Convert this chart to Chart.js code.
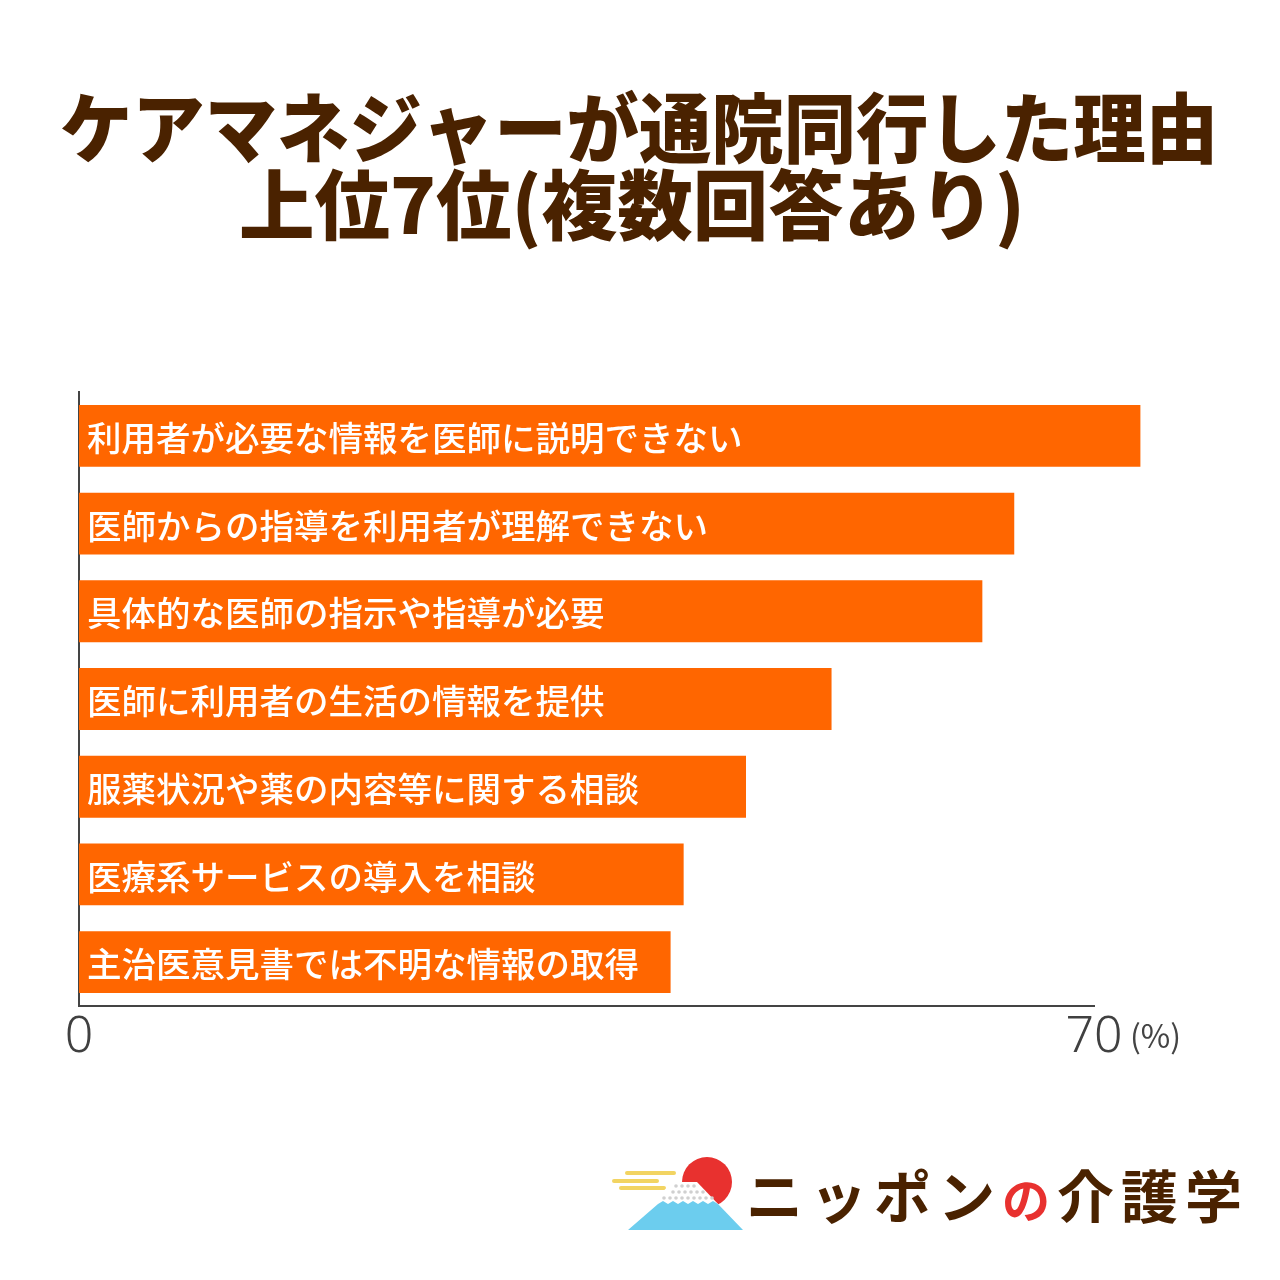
<!DOCTYPE html>
<html>
<head>
<meta charset="utf-8">
<script src="https://cdn.jsdelivr.net/npm/chart.js@4.4.1/dist/chart.umd.min.js"></script>
<style>
html,body{margin:0;padding:0;background:#fff;}
#wrap{position:relative;width:1280px;height:1280px;}
#c{position:absolute;left:0;top:0;}
#logo{position:absolute;left:600px;top:1150px;width:160px;height:90px;}
#logoText{position:absolute;left:746px;top:1158px;font-family:"Noto Sans CJK JP";font-weight:700;font-size:57px;color:#4A2200;letter-spacing:7px;line-height:70px;white-space:nowrap;}
#logoText .no{color:#E8312F;font-size:48px;}
</style>
</head>
<body>
<div id="wrap">
<canvas id="c" width="1280" height="1280"></canvas>
<svg id="logo" width="160" height="90" viewBox="600 1150 160 90">
  <g stroke="#F2D462" stroke-width="4" stroke-linecap="round">
    <line x1="627" y1="1173" x2="674" y2="1173"/>
    <line x1="614" y1="1181" x2="657" y2="1181"/>
    <line x1="621" y1="1188" x2="664" y2="1188"/>
  </g>
  <circle cx="707" cy="1182" r="25" fill="#E8312F"/>
  <polygon points="672,1182 697,1182 743,1230 628,1230" fill="#fff"/>
  <g fill="#D0D0D0">
    <circle cx="676" cy="1186" r="1.8"/><circle cx="682" cy="1186" r="1.8"/><circle cx="688" cy="1186" r="1.8"/><circle cx="694" cy="1186" r="1.8"/>
    <circle cx="673" cy="1192" r="1.8"/><circle cx="679" cy="1192" r="1.8"/><circle cx="685" cy="1192" r="1.8"/><circle cx="691" cy="1192" r="1.8"/><circle cx="697" cy="1192" r="1.8"/><circle cx="703" cy="1192" r="1.8"/>
    <circle cx="664" cy="1198" r="1.8"/><circle cx="670" cy="1198" r="1.8"/><circle cx="676" cy="1198" r="1.8"/><circle cx="682" cy="1198" r="1.8"/><circle cx="688" cy="1198" r="1.8"/><circle cx="694" cy="1198" r="1.8"/><circle cx="700" cy="1198" r="1.8"/><circle cx="706" cy="1198" r="1.8"/><circle cx="712" cy="1198" r="1.8"/>
  </g>
  <path d="M658,1204 l5,-3 l5,3 l5,-3 l5,3 l5,-3 l5,3 l5,-3 l5,3 l5,-3 l5,3 l5,-3 l5,3 L743,1230 L628,1230 Z" fill="#6CCDEE"/>
</svg>
<div id="logoText">ニッポン<span class="no">の</span>介護学</div>
</div>
<script>
const categories = [
  "利用者が必要な情報を医師に説明できない",
  "医師からの指導を利用者が理解できない",
  "具体的な医師の指示や指導が必要",
  "医師に利用者の生活の情報を提供",
  "服薬状況や薬の内容等に関する相談",
  "医療系サービスの導入を相談",
  "主治医意見書では不明な情報の取得"
];
const values = [73.2, 64.5, 62.3, 51.9, 46.0, 41.7, 40.8];
const tickValues = [0, 70];
const titleLines = ["ケアマネジャーが通院同行した理由", "上位7位(複数回答あり)"];
const unitLabel = "(%)";

const overlay = {
  id: 'overlay',
  afterDraw(chart) {
    const ctx = chart.ctx;
    ctx.save();
    ctx.fillStyle = '#4A2200';
    ctx.textAlign = 'center';
    ctx.textBaseline = 'middle';
    ctx.font = '900 76px "Noto Sans CJK JP"';
    ctx.fillText(titleLines[0], 639, 128, 1158);
    ctx.fillText(titleLines[1], 632, 205, 786);
    ctx.fillStyle = '#444';
    ctx.font = '400 32px "Noto Sans CJK JP"';
    ctx.textAlign = 'left';
    const xs = chart.scales.x;
    ctx.fillText(unitLabel, xs.getPixelForValue(70) + 36, 1036);
    ctx.restore();
  },
  afterDatasetsDraw(chart) {
    const ctx = chart.ctx;
    const meta = chart.getDatasetMeta(0);
    ctx.save();
    ctx.fillStyle = '#fff';
    ctx.font = '500 34.5px "Noto Sans CJK JP"';
    ctx.textAlign = 'left';
    ctx.textBaseline = 'middle';
    meta.data.forEach((bar, i) => {
      ctx.fillText(categories[i], chart.chartArea.left + 8, bar.y + 2);
    });
    ctx.restore();
  }
};

new Chart(document.getElementById('c'), {
  type: 'bar',
  data: {
    labels: categories,
    datasets: [{
      data: values,
      backgroundColor: '#FF6600',
      borderWidth: 0,
      categoryPercentage: 1,
      barPercentage: 0.705,
      clip: false
    }]
  },
  plugins: [overlay],
  options: {
    indexAxis: 'y',
    responsive: false,
    animation: false,
    devicePixelRatio: 1,
    layout: { padding: { left: 79, right: 186, top: 392, bottom: 214 } },
    plugins: { legend: { display: false }, tooltip: { enabled: false }, title: { display: false } },
    scales: {
      x: {
        min: 0, max: 70,
        afterBuildTicks: (axis) => { axis.ticks = tickValues.map(v => ({ value: v })); },
        afterFit: (s) => { s.height = 60; },
        grid: { display: false, drawTicks: false },
        border: { display: true, color: '#444', width: 2 },
        ticks: { color: '#404040', font: { family: 'Noto Sans', size: 50, weight: 300 }, padding: 2, maxRotation: 0, autoSkip: false }
      },
      y: {
        afterFit: (s) => { s.width = 0; },
        grid: { display: false, drawTicks: false },
        border: { display: true, color: '#444', width: 2 },
        ticks: { display: false }
      }
    }
  }
});
</script>
</body>
</html>
